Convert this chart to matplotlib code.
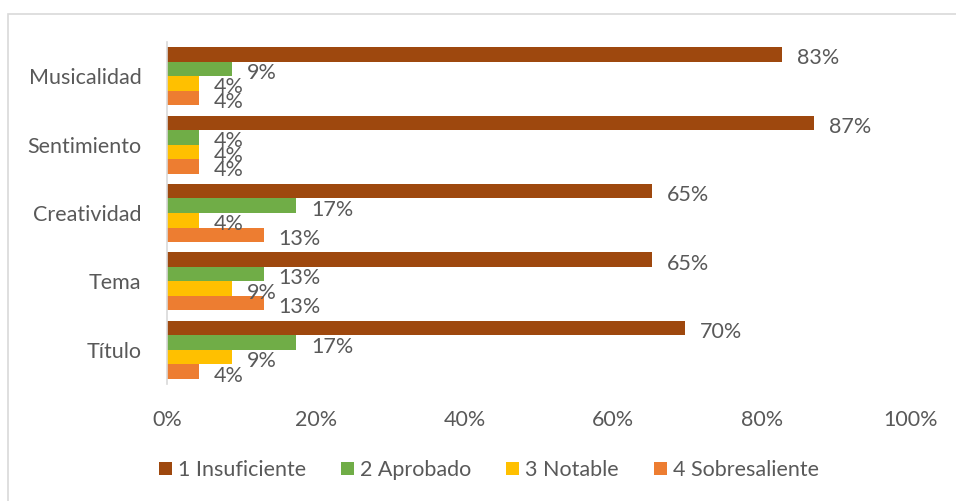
import matplotlib
matplotlib.use("Agg")
import matplotlib.pyplot as plt
from matplotlib.patches import Patch, Rectangle
from matplotlib.ticker import PercentFormatter
import numpy as np

plt.rcParams['font.family'] = ['Lato', 'DejaVu Sans']

categories = ["Musicalidad", "Sentimiento", "Creatividad", "Tema", "Título"]
series_names = ["1 Insuficiente", "2 Aprobado", "3 Notable", "4 Sobresaliente"]
insuficiente = [82.6, 87.0, 65.2, 65.2, 69.6]
aprobado = [8.7, 4.3, 17.4, 13.0, 17.4]
notable = [4.3, 4.3, 4.3, 8.7, 8.7]
sobresaliente = [4.3, 4.3, 13.0, 13.0, 4.3]
colors = ["#9E480E", "#70AD47", "#FFC000", "#ED7D31"]
xticks = [0, 20, 40, 60, 80, 100]

TEXT = "#595959"
FS = 15.5

fig = plt.figure(figsize=(9.56, 5.01), dpi=100)
W, H = 956, 501
ax = fig.add_axes([167 / W, (H - 384) / H, (911 - 167) / W, (384 - 42) / H])

n = len(categories)
ypos = np.arange(n)[::-1]  # Musicalidad at top
h = 0.212
data = [insuficiente, aprobado, notable, sobresaliente]
for i, (vals, c, name) in enumerate(zip(data, colors, series_names)):
    yy = ypos + (1.5 - i) * h
    ax.barh(yy, vals, height=h, color=c, label=name, edgecolor='none')
    for y, v in zip(yy, vals):
        ax.annotate(f"{v:.0f}%", xy=(v, y), xytext=(15, -4), textcoords='offset pixels',
                    ha='left', va='center', fontsize=FS, color=TEXT)

ax.set_xlim(0, 100)
ax.set_ylim(-0.5, n - 0.5)
ax.set_yticks(ypos)
ax.set_yticklabels(categories, fontsize=FS, color=TEXT)
ax.set_xticks(xticks)
ax.xaxis.set_major_formatter(PercentFormatter(decimals=0))
ax.tick_params(axis='x', length=0, pad=19, labelsize=FS, labelcolor=TEXT)
ax.tick_params(axis='y', length=0, pad=18.5, labelsize=FS, labelcolor=TEXT)
for s in ['top', 'right', 'bottom']:
    ax.spines[s].set_visible(False)
ax.spines['left'].set_color('#D9D9D9')
ax.spines['left'].set_linewidth(1.2)

# figure frame (partially cropped on right/bottom)
fig.patches.append(Rectangle((7.5 / W, -0.1), 1.2, (H - 13.5) / H + 0.1,
                             transform=fig.transFigure, fill=False,
                             edgecolor='#D9D9D9', linewidth=1.2))

handles = [Patch(facecolor=c, edgecolor='none', label=nm) for c, nm in zip(colors, series_names)]
fig.legend(handles=handles, loc='center', bbox_to_anchor=(489 / W, (H - 470) / H),
           ncol=4, frameon=False, fontsize=FS, labelcolor=TEXT,
           handlelength=0.6, handleheight=0.6, handletextpad=0.28, columnspacing=1.63)

fig.savefig("out.png", dpi=100)
